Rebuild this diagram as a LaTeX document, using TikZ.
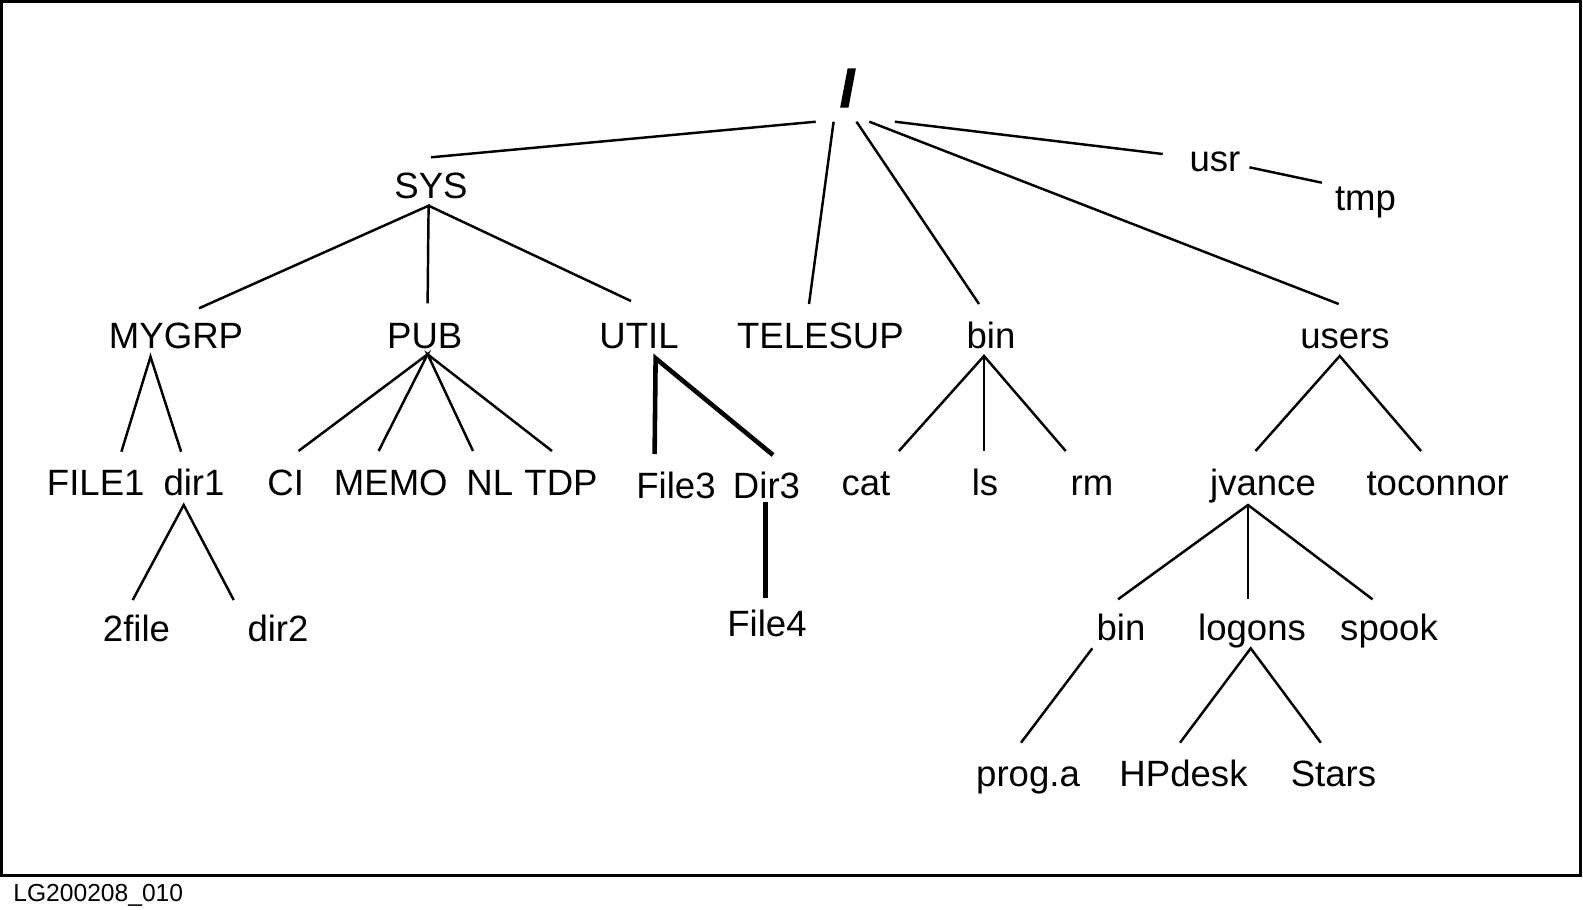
\documentclass[tikz,border=0pt]{standalone}
\usepackage{fontspec}
\setmainfont{Liberation Sans}
\newfontfamily\rootfont[FakeBold=5]{Liberation Sans Bold}
\newcommand{\dirfont}{\fontsize{10.4}{12}\selectfont}

\tikzstyle{dirname}=[inner sep=0pt,anchor=base,font=\dirfont]
\tikzstyle{branch}=[line width=0.7pt]
\tikzstyle{heavy}=[line width=1.3pt]

\begin{document}
\begin{tikzpicture}[x=0.01cm,y=-0.01cm]
	\useasboundingbox (0,0) rectangle (1583,909);
	\draw[line width=0.77pt] (1.3,1.3) rectangle (1580.7,875.8);
	\node[inner sep=0pt,anchor=base west,font=\fontsize{7}{8}\selectfont] (tag) at (12.7,901) {LG200208\_010};
	
	\node[inner sep=0pt,font=\rootfont\fontsize{14}{14}\selectfont] (root) at (848,88) {/};
	
	\node[dirname] (sys) at (431,198.3) {SYS};
	\node[dirname] (usr) at (1215,171.7) {usr};
	\node[dirname] (tmp) at (1365.5,210) {tmp};
	
	\node[dirname] (mygrp) at (176,348) {MYGRP};
	\node[dirname] (pub) at (424.7,348) {PUB};
	\node[dirname] (util) at (639,348) {UTIL};
	\node[dirname] (telesup) at (820.4,348) {TELESUP};
	\node[dirname] (bin) at (991,348) {bin};
	\node[dirname] (users) at (1345,348) {users};
	
	\node[dirname] (file1) at (95.7,495) {FILE1};
	\node[dirname] (dir1) at (194,495) {dir1};
	\node[dirname] (ci) at (285.7,495) {CI};
	\node[dirname] (memo) at (390.8,495) {MEMO};
	\node[dirname] (nl) at (489.8,495) {NL};
	\node[dirname] (tdp) at (561,495) {TDP};
	\node[dirname] (file3) at (676,498) {File3};
	\node[dirname] (dir3) at (766.5,498) {Dir3};
	\node[dirname] (cat) at (866,495) {cat};
	\node[dirname] (ls) at (985,495) {ls};
	\node[dirname] (rm) at (1092,495) {rm};
	\node[dirname] (jvance) at (1263,495) {jvance};
	\node[dirname] (toconnor) at (1437.7,495) {toconnor};
	
	\node[dirname] (twofile) at (136.5,641.7) {2file};
	\node[dirname] (dir2) at (278,641.7) {dir2};
	\node[dirname] (file4) at (767,636.7) {File4};
	\node[dirname] (ubin) at (1121,640) {bin};
	\node[dirname] (logons) at (1252,640) {logons};
	\node[dirname] (spook) at (1389,640) {spook};
	
	\node[dirname] (proga) at (1028,786.7) {prog.a};
	\node[dirname] (hpdesk) at (1183.5,786.7) {HPdesk};
	\node[dirname] (stars) at (1333.5,786.7) {Stars};
	
	\draw[branch] ([shift={(-32.3,33.7)}]root.center) -- ([shift={(0,-41)}]sys.base);
	\draw[branch] ([shift={(-14.4,33.7)}]root.center) -- ([shift={(-11.4,-44)}]telesup.base);
	\draw[branch] ([shift={(8.5,33.7)}]root.center) -- ([shift={(-12,-44)}]bin.base);
	\draw[branch] ([shift={(21.3,33.7)}]root.center) -- ([shift={(-6.3,-44)}]users.base);
	\draw[branch] ([shift={(46.8,33.7)}]root.center) -- ([shift={(-52.3,-17.7)}]usr.base);
	\draw[branch] ([shift={(34.4,-4.4)}]usr.base) -- ([shift={(-43.7,-27.3)}]tmp.base);
	
	\draw[branch] ([shift={(23,-39.7)}]mygrp.base) -- ([shift={(-2.4,7.4)}]sys.base) -- ([shift={(2.9,-44.7)}]pub.base);
	\draw[branch] ([shift={(-2.4,7.4)}]sys.base) -- ([shift={(-8,-47)}]util.base);
	
	\draw[branch] ([shift={(25.7,-43.3)}]file1.base) -- ([shift={(-25.5,8.7)}]mygrp.base) -- ([shift={(-12.9,-43.3)}]dir1.base);
	\draw[branch] ([shift={(12.8,-44)}]ci.base) -- ([shift={(2.9,6.3)}]pub.base) -- ([shift={(-12.2,-44)}]memo.base);
	\draw[branch] ([shift={(-16.8,-44)}]nl.base) -- ([shift={(2.9,6.3)}]pub.base) -- ([shift={(-9,-44)}]tdp.base);
	\draw[heavy] ([shift={(-21.4,-44)}]file3.base) -- ([shift={(16.6,10.3)}]util.base) -- ([shift={(6.5,-43)}]dir3.base);
	\draw[heavy] ([shift={(-1.2,3.7)}]dir3.base) -- ([shift={(-1.7,-38.4)}]file4.base);
	\draw[branch] ([shift={(-3.8,-41.7)}]twofile.base) -- ([shift={(-10.3,10)}]dir1.base) -- ([shift={(-44.3,-41.7)}]dir2.base);
	
	\draw[branch] ([shift={(32.9,-44)}]cat.base) -- ([shift={(-7,8)}]bin.base) -- ([shift={(-26.3,-44)}]rm.base);
	\draw[branch] ([shift={(-7,8)}]bin.base) -- ([shift={(-1,-44)}]ls.base);
	\draw[branch] ([shift={(-7.5,-44)}]jvance.base) -- ([shift={(-5.3,8)}]users.base) -- ([shift={(-16.7,-44)}]toconnor.base);
	
	\draw[branch] ([shift={(-3,-40.7)}]ubin.base) -- ([shift={(-15,10)}]jvance.base) -- ([shift={(-16.5,-40.7)}]spook.base);
	\draw[branch] ([shift={(-15,10)}]jvance.base) -- ([shift={(-4,-40.7)}]logons.base);
	\draw[branch] ([shift={(-28.7,8.3)}]ubin.base) -- ([shift={(-7,-44)}]proga.base);
	\draw[branch] ([shift={(-3.5,-44)}]hpdesk.base) -- ([shift={(-1.3,8.3)}]logons.base) -- ([shift={(-12.7,-44)}]stars.base);
\end{tikzpicture}
\end{document}
